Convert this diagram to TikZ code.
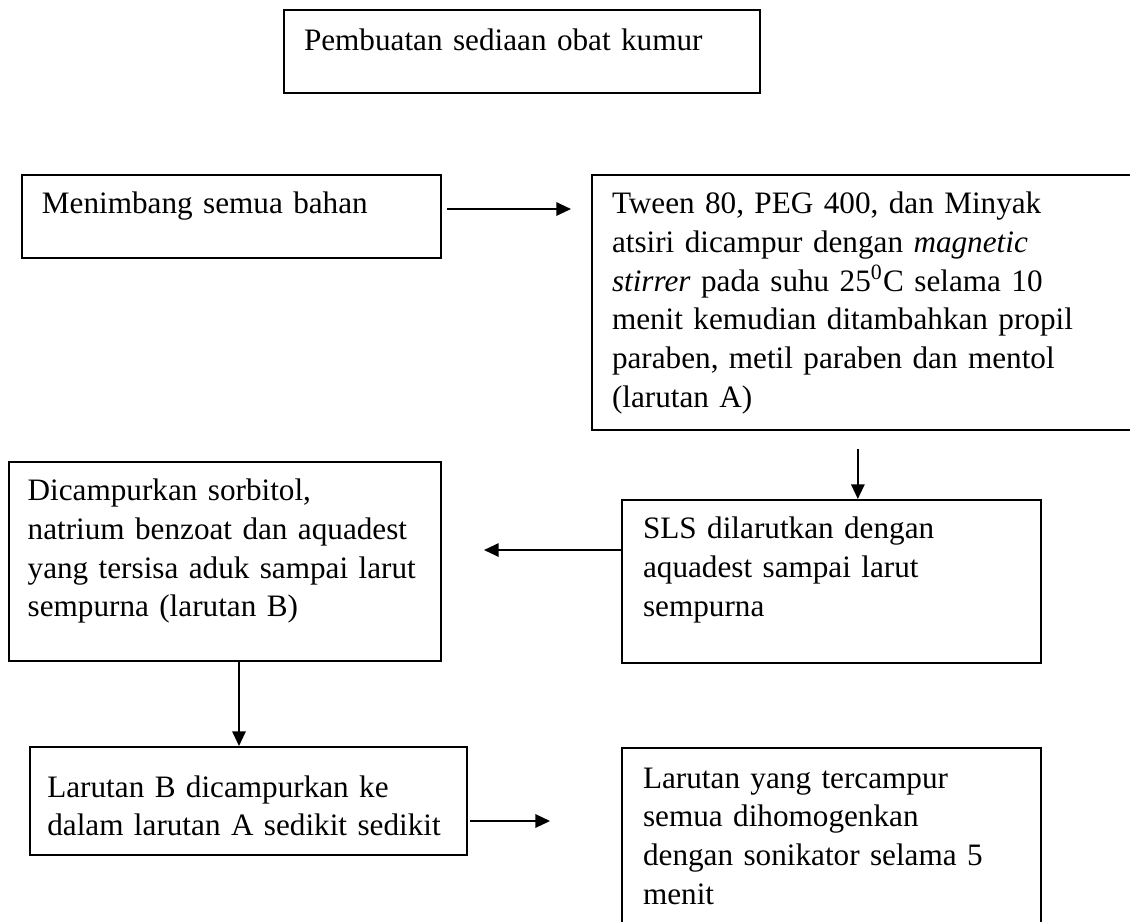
\documentclass[tikz,border=0pt]{standalone}
\usepackage{fontspec}
\setmainfont{Liberation Serif}
\usetikzlibrary{arrows.meta}

\begin{document}
\begin{tikzpicture}[x=.375pt,y=-.375pt,>={Triangle[length=5.5pt,width=5pt]}]
	\tikzset{
		kotak/.style={draw, line width=.75pt, anchor=north west, align=left, inner ysep=0pt,
			font=\fontsize{11.7pt}{14.5pt}\selectfont},
		panah/.style={->, line width=.75pt}
	}
	\useasboundingbox (0,0) rectangle (1130,922);
	\clip (0,0) rectangle (1130,922);

	% judul
	\node[kotak, inner xsep=7.5pt, text width=163.5pt, text height=15pt, text depth=16.1pt] (judul) at (283,9)
		{Pembuatan sediaan obat kumur};

	% langkah
	\node[kotak, inner xsep=7.5pt, text width=142.1pt, text height=14.6pt, text depth=16.5pt] (timbang) at (21,174)
		{Menimbang semua bahan};
	\node[kotak, inner xsep=7.5pt, text width=213.4pt, text height=14.6pt, text depth=81pt] (larutanA) at (591,174)
		{Tween 80, PEG 400, dan Minyak\\
		atsiri dicampur dengan \textit{magnetic}\\
		\textit{stirrer} pada suhu 25\textsuperscript{0}C selama 10\\
		menit kemudian ditambahkan propil\\
		paraben, metil paraben dan mentol\\
		(larutan A)};
	\node[kotak, inner xsep=7.9pt, text width=141.3pt, text height=14.6pt, text depth=46.5pt] (sls) at (621,499)
		{SLS dilarutkan dengan\\
		aquadest sampai larut\\
		sempurna};
	\node[kotak, inner xsep=7pt, text width=148pt, text height=14.6pt, text depth=60pt] (larutanB) at (8,461)
		{Dicampurkan sorbitol,\\
		natrium benzoat dan aquadest\\
		yang tersisa aduk sampai larut\\
		sempurna (larutan B)};
	\node[kotak, inner xsep=6.5pt, text width=150.9pt, text height=18.75pt, text depth=21.75pt] (campur) at (29,746)
		{Larutan B dicampurkan ke\\
		dalam larutan A sedikit sedikit};
	\node[kotak, inner xsep=7.9pt, text width=141.3pt, text height=15pt, text depth=71pt] (homogen) at (621,747)
		{Larutan yang tercampur\\
		semua dihomogenkan\\
		dengan sonikator selama 5\\
		menit};

	% panah
	\coordinate (t1) at ([yshift=2.8pt]timbang.east);
	\draw[panah, shorten <=1.9pt, shorten >=7.5pt] (t1) -- (t1 -| larutanA.west);
	\coordinate (t2) at ([xshift=9.9pt]sls.north);
	\draw[panah, shorten <=6.75pt] (t2 |- larutanA.south) -- (t2);
	\coordinate (t3) at ([yshift=11.8pt]sls.west);
	\draw[panah, shorten >=15.75pt] (t3) -- (t3 -| larutanB.east);
	\coordinate (t4) at ([xshift=5.25pt]larutanB.south);
	\draw[panah] (t4) -- (t4 |- campur.north);
	\coordinate (t5) at ([yshift=-7.5pt]campur.east);
	\draw[panah, shorten <=.75pt, shorten >=26.6pt] (t5) -- (t5 -| homogen.west);

\end{tikzpicture}
\end{document}
